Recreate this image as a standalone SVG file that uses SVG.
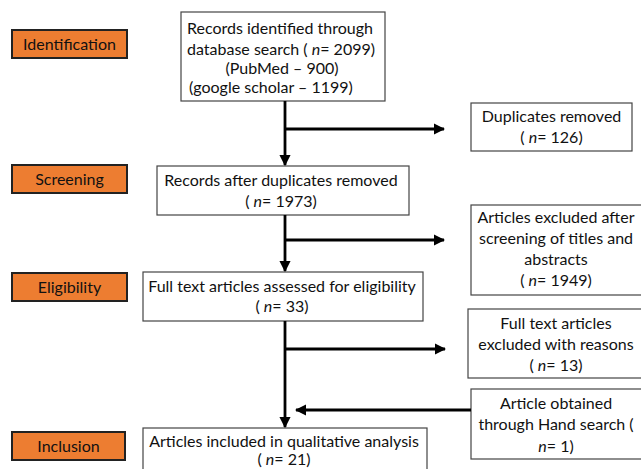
<svg xmlns="http://www.w3.org/2000/svg" width="641" height="469" viewBox="0 0 641 469">
<defs>
<marker id="ah" viewBox="0 0 10 10" refX="9" refY="5" markerWidth="4" markerHeight="4" markerUnits="strokeWidth" orient="auto">
<path d="M0,0 L10,5 L0,10 z" fill="#000"/>
</marker>
<style>
.stage{fill:#ED7D31;stroke:#222;stroke-width:2}
.box{fill:#fff;stroke:#444;stroke-width:1.2}
text{font-family:Lato,"Open Sans","Liberation Sans",sans-serif;font-size:16px;fill:#111}
.c{text-anchor:middle}
.conn{stroke:#000;stroke-width:2.8;fill:none}
</style>
</defs>
<rect width="641" height="469" fill="#fff"/>
<g id="stage-identification"><rect class="stage" x="12" y="30" width="115" height="28"/><text class="c" x="69.5" y="50">Identification</text></g>
<g id="stage-screening"><rect class="stage" x="12" y="165" width="115" height="28"/><text class="c" x="69.5" y="185">Screening</text></g>
<g id="stage-eligibility"><rect class="stage" x="12" y="273" width="115" height="28"/><text class="c" x="69.5" y="293">Eligibility</text></g>
<g id="stage-inclusion"><rect class="stage" x="12" y="432" width="113" height="28"/><text class="c" x="68.5" y="452">Inclusion</text></g>

<g id="records-identified"><rect class="box" x="181" y="12" width="204" height="89"/>
<text x="187" y="34">Records identified through</text>
<text x="187" y="55">database search ( <tspan font-style="italic">n</tspan>= 2099)</text>
<text class="c" x="282" y="74">(PubMed – 900)</text>
<text x="189" y="93">(google scholar – 1199)</text></g>

<g id="duplicates-removed"><rect class="box" x="471" y="103" width="161" height="48"/>
<text class="c" x="551.5" y="122">Duplicates removed</text>
<text class="c" x="551.5" y="143">( <tspan font-style="italic">n</tspan>= 126)</text></g>

<g id="records-after"><rect class="box" x="157" y="166" width="252" height="49"/>
<text class="c" x="281" y="186">Records after duplicates removed</text>
<text class="c" x="281" y="207">( <tspan font-style="italic">n</tspan>= 1973)</text></g>

<g id="excluded-screening"><rect class="box" x="471" y="205" width="172" height="90"/>
<text class="c" x="556" y="223">Articles excluded after</text>
<text class="c" x="556" y="244">screening of titles and</text>
<text class="c" x="556" y="265">abstracts</text>
<text class="c" x="556" y="286">( <tspan font-style="italic">n</tspan>= 1949)</text></g>

<g id="full-text-assessed"><rect class="box" x="143" y="272" width="280" height="49"/>
<text class="c" x="282" y="292">Full text articles assessed for eligibility</text>
<text class="c" x="282" y="312">( <tspan font-style="italic">n</tspan>= 33)</text></g>

<g id="full-text-excluded"><rect class="box" x="468" y="309" width="175" height="69"/>
<text class="c" x="556" y="329">Full text articles</text>
<text class="c" x="556" y="350">excluded with reasons</text>
<text class="c" x="556" y="371">( <tspan font-style="italic">n</tspan>= 13)</text></g>

<g id="hand-search"><rect class="box" x="471" y="389" width="172" height="70"/>
<text class="c" x="556" y="409">Article obtained</text>
<text class="c" x="556" y="430">through Hand search (</text>
<text class="c" x="556" y="452"><tspan font-style="italic">n</tspan>= 1)</text></g>

<g id="included"><rect class="box" x="143" y="428" width="284" height="50"/>
<text class="c" x="284" y="447">Articles included in qualitative analysis</text>
<text class="c" x="284" y="465">( <tspan font-style="italic">n</tspan>= 21)</text></g>

<g id="connectors">
<line class="conn" x1="285" y1="101" x2="285" y2="165" marker-end="url(#ah)"/>
<line class="conn" x1="285" y1="129" x2="444" y2="129" marker-end="url(#ah)"/>
<line class="conn" x1="285" y1="215" x2="285" y2="271" marker-end="url(#ah)"/>
<line class="conn" x1="285" y1="240" x2="444" y2="240" marker-end="url(#ah)"/>
<line class="conn" x1="285" y1="321" x2="285" y2="427" marker-end="url(#ah)"/>
<line class="conn" x1="285" y1="349" x2="445" y2="349" marker-end="url(#ah)"/>
<line class="conn" x1="471" y1="410" x2="296" y2="410" marker-end="url(#ah)"/>
</g>
</svg>
